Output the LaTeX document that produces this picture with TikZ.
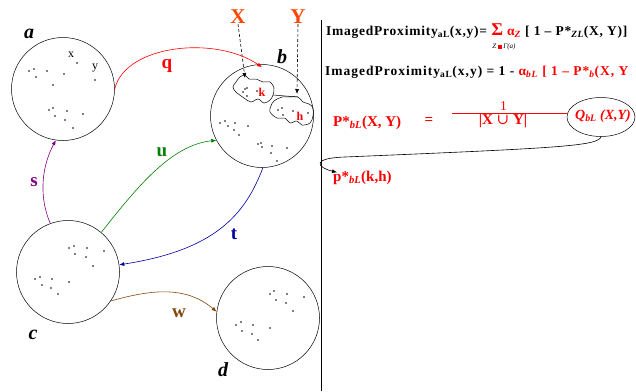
\documentclass[tikz,border=0pt]{standalone}
\usepackage{fontspec}
\setmainfont{Liberation Serif}
\newfontfamily\symfnt{DejaVu Serif}
\usetikzlibrary{arrows.meta,shapes.geometric}
\definecolor{cq}{RGB}{255,0,0}
\definecolor{cx}{RGB}{255,69,0}
\definecolor{cu}{RGB}{0,128,0}
\definecolor{cs}{RGB}{128,0,128}
\definecolor{ct}{RGB}{0,0,160}
\definecolor{cw}{RGB}{130,70,10}
\tikzset{
  region/.style={circle,draw,line width=0.5pt,minimum size=103pt,inner sep=0},
  rlabel/.style={font=\fontsize{20}{20}\selectfont\bfseries\itshape},
  elabel/.style={font=\fontsize{19}{19}\selectfont\bfseries},
  conn/.style={line width=0.6pt,-{Latex[length=5pt,width=4pt]}},
  dashconn/.style={line width=0.6pt,dash pattern=on 3pt off 2pt,-{Latex[length=5pt,width=4pt]}},
  eqlineA/.style={anchor=base west,inner sep=0,font=\bfseries\fontsize{13.5}{15}\selectfont\addfontfeature{LetterSpace=5.6}},
  eqlineB/.style={anchor=base west,inner sep=0,font=\bfseries\fontsize{13.5}{15}\selectfont\addfontfeature{LetterSpace=7.4}},
  redtxt/.style={text=cq,font=\bfseries\fontsize{15}{16}\selectfont},
  dot/.style={fill=black}
}
\begin{document}
\begin{tikzpicture}[x=1pt,y=-1pt]
\useasboundingbox (0,0) rectangle (636,391);
% regions
\node[region] (a) at (63,89) {};
\node[region] (b) at (262,116) {};
\node[region] (c) at (68,272) {};
\node[region] (d) at (268,318) {};
\node[rlabel] (la) at (29,34) {a};
\node[rlabel] (lb) at (282,57) {b};
\node[rlabel] (lc) at (33,335) {c};
\node[rlabel] (ld) at (223,370) {d};
% dots
\foreach \p in {(29,71),(34,69),(36,77),(47,71),(64,74),(53,85),(77,63),(95,80),(49,110),(53,108),(55,116),(67,111),(65,120),(83,114),(73,128),
  (245,89),(247,88),(243,92),(247,96),(257,91),(282,108),(278,110),(283,115),(293,111),(308,113),
  (220,123),(225,121),(228,126),(235,123),(234,130),(248,126),(239,135),
  (258,144),(261,143),(262,147),(272,146),(271,153),(287,148),(277,161),
  (69,248),(74,246),(75,254),(87,248),(104,251),(86,257),(93,266),
  (35,279),(40,277),(42,285),(52,279),(51,288),(69,282),(58,294),
  (270,294),(274,291),(276,300),(287,294),(286,303),(304,297),(293,311),
  (236,325),(241,322),(242,331),(253,325),(252,334),(270,328),(258,340)}
  \fill[dot] \p circle (0.95pt);
\node[font=\fontsize{12}{12}\selectfont,inner sep=0] (sx) at (71,55) {x};
\node[font=\fontsize{12}{12}\selectfont,inner sep=0] (sy) at (95,68) {y};
% blobs in b
\draw[line width=0.5pt] plot[smooth cycle,tension=0.6] coordinates {(240,77) (245,75) (249,79) (256,79) (263,82) (270,82) (274,88) (273,95) (270,100) (264,103) (258,99) (251,102) (244,98) (236,92) (233,87) (236,82)};
\draw[line width=0.5pt] plot[smooth cycle,tension=0.6] coordinates {(274,101) (282,97) (290,97) (298,97) (303,102) (309,104) (313,108) (313,116) (310,123) (302,125) (297,121) (290,123) (285,118) (277,118) (270,112) (271,106)};
\draw[line width=0.5pt] (273,95) -- (298,97);
\node[text=cq,font=\bfseries\fontsize{12}{12}\selectfont,inner sep=0] (k) at (262,92) {k};
\node[text=cq,font=\bfseries\fontsize{12}{12}\selectfont,inner sep=0] (h) at (300,116) {h};
% X Y
\node[text=cx,font=\bfseries\fontsize{21}{21}\selectfont,inner sep=0] (X) at (238,17) {X};
\node[text=cx,font=\bfseries\fontsize{21}{21}\selectfont,inner sep=0] (Y) at (298,17) {Y};
\coordinate (kx) at (245,78);
\coordinate (hy) at (297,94);
\draw[dashconn] (X.south) -- (kx);
\draw[dashconn] (Y.south) -- (hy);
% connectors
\draw[conn,cq] (a.east) .. controls (125,45) and (215,35) .. ([yshift=-3pt]b.north);
\node[elabel,text=cq] (q) at (167,66) {q};
\draw[conn,cu] (c.50) .. controls (135,190) and (170,145) .. (b.208);
\node[elabel,text=cu] (u) at (162,152) {u};
\draw[conn,cs] (c.110) .. controls (40,200) and (40,170) .. (a.262);
\node[elabel,text=cs] (s) at (34,182) {s};
\draw[conn,ct] (b.-89) .. controls (245,215) and (215,250) .. (c.8);
\node[elabel,text=ct] (t) at (234,234) {t};
\draw[conn,cw] (c.-34) .. controls (150,290) and (185,285) .. (d.173);
\node[elabel,text=cw] (w) at (179,313) {w};
% separator
\coordinate (sep1) at (321,20);
\coordinate (sep2) at (321,391);
\draw[line width=0.6pt] (sep1) -- (sep2);
% formulas
\node[eqlineA] (l1) at (326,35) {ImagedProximity\textsubscript{aL}(x,y)= \textcolor{cq}{{\fontsize{18}{18}\selectfont Σ} α\textsubscript{\itshape Z}} [ 1 – P*\textsubscript{\itshape ZL}(X, Y)]};
\node[inner sep=0,font=\itshape\fontsize{7}{7}\selectfont] (gam) at (504,47) {Z \textcolor{cq}{\rule{3.5pt}{3.5pt}} Γ(a)};
\node[eqlineB] (l2) at (325,75) {ImagedProximity\textsubscript{aL}(x,y) = 1 - \textcolor{cq}{α\textsubscript{\itshape bL} [ 1 – P*\textsubscript{\itshape b}(X, Y}};
\node[redtxt,anchor=base west,inner sep=0] (P) at (333,126) {P*\textsubscript{\itshape bL}(X, Y)};
\node[redtxt,inner sep=0] (eq) at (429,121) {=};
\node[text=cq,font=\fontsize{13.5}{13.5}\selectfont,inner sep=0] (num) at (503.5,106.5) {1};
\node[redtxt,inner sep=0] (den) at (503,121) {\textbar X {\symfnt\mdseries ∪} Y\textbar};
\node[ellipse,draw,line width=0.5pt,minimum width=68pt,minimum height=39pt,inner sep=0] (Q) at (601,117) {};
\node[text=cq,font=\bfseries\itshape\fontsize{14}{14}\selectfont,inner sep=0] (Qt) at (603,116) {Q\textsubscript{bL} (X,Y)};
\coordinate (fl) at (452,113);
\draw[cq,line width=0.6pt] (fl) -- (fl -| Q.west);
\node[redtxt,anchor=base west,inner sep=0] (pk) at (333,181) {p*\textsubscript{\itshape bL}(k,h)};
\draw[conn] (Q.south) .. controls (598,146) and (560,148) .. (345,157) .. controls (312,158) and (316,167) .. ([xshift=4pt,yshift=-2pt]pk.north west);
\end{tikzpicture}
\end{document}
